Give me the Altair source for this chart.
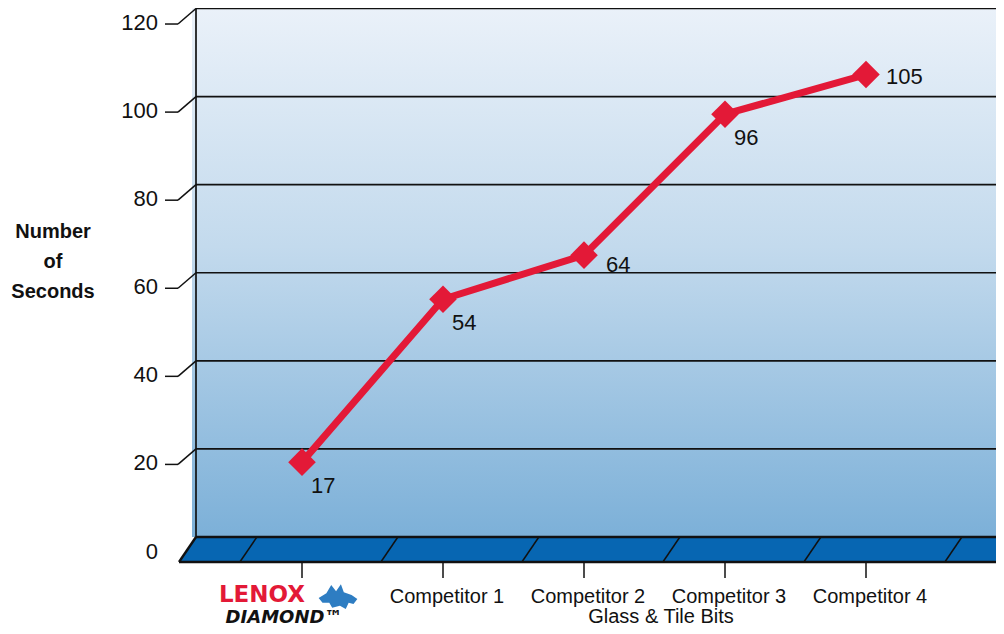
import altair as alt
import pandas as pd

# ---------------- data ----------------
categories = ["LENOX DIAMOND", "Competitor 1", "Competitor 2", "Competitor 3", "Competitor 4"]
seconds = [17, 54, 64, 96, 105]
y_ticks = [0, 20, 40, 60, 80, 100, 120]
x_title = "Glass & Tile Bits"
y_title = ["Number", "of", "Seconds"]
brand_top = "LENOX"
brand_bottom = "DIAMOND\u2122"

# ---------------- layout / styling constants ----------------
W, H = 988, 618
PX_X = 141.0          # pixels per category step
PX_Y = 4.404          # pixels per second
X0_PAGE = 302.0       # page x of first category
Y0_PAGE = 537.0       # page y of value 0 on the back wall


def xi(page_x):
    return (page_x - X0_PAGE) / PX_X


def yv(page_y):
    return (Y0_PAGE - page_y) / PX_Y


XMIN, XMAX = xi(8), xi(8 + W)
YMIN, YMAX = yv(8 + H), yv(8)
WALL_X = xi(196)           # back wall left edge
FD_X, FD_Y = 17 / PX_X, 25 / PX_Y   # floor depth offset
TD_Y = 15.5 / PX_Y                    # tick depth offset
TICK_X0, TICK_X1 = xi(165), xi(178)

RED = "#E31937"
FLOOR = "#0766B2"
SANS = "Liberation Sans, Arial, sans-serif"

xs = alt.Scale(domain=[XMIN, XMAX], nice=False, zero=False)
ys = alt.Scale(domain=[YMIN, YMAX], nice=False, zero=False)


def X(f):
    return alt.X(f, type="quantitative", scale=xs, axis=None)


def Y(f):
    return alt.Y(f, type="quantitative", scale=ys, axis=None)


# ---------------- back wall ----------------
grad = alt.LinearGradient(
    gradient="linear", x1=0, y1=0, x2=0, y2=1,
    stops=[alt.GradientStop(color="#EAF1F9", offset=0),
           alt.GradientStop(color="#C3DAED", offset=0.45),
           alt.GradientStop(color="#7CB0D8", offset=1)])
wall = alt.Chart(pd.DataFrame({"x": [xi(192)], "x2": [XMAX], "y": [0], "y2": [max(y_ticks)]})).mark_rect(
    fill=grad).encode(x=X("x"), x2="x2", y=Y("y"), y2="y2")

grid_df = pd.DataFrame({"x": [WALL_X] * (len(y_ticks) - 1), "x2": [XMAX] * (len(y_ticks) - 1),
                        "y": y_ticks[1:], "y2": y_ticks[1:]})
grid = alt.Chart(grid_df).mark_rule(color="#111111", strokeWidth=1.7).encode(
    x=X("x"), x2="x2", y=Y("y"), y2="y2")
wall_edge = alt.Chart(pd.DataFrame({"x": [WALL_X], "y": [0], "y2": [max(y_ticks)]})).mark_rule(
    color="#111111", strokeWidth=1.7).encode(x=X("x"), y=Y("y"), y2="y2")

# ---------------- floor ----------------
floor_df = pd.DataFrame({"y": [0, -FD_Y], "x": [WALL_X, WALL_X - FD_X], "x2": [XMAX, XMAX]})
floor = alt.Chart(floor_df).mark_area(orient="horizontal", color=FLOOR, opacity=1).encode(
    y=Y("y"), x=X("x"), x2="x2")
edges_df = pd.DataFrame({
    "x": [WALL_X, WALL_X - FD_X, WALL_X],
    "x2": [XMAX, XMAX, WALL_X - FD_X],
    "y": [0, -FD_Y, 0],
    "y2": [0, -FD_Y, -FD_Y]})
floor_edges = alt.Chart(edges_df).mark_rule(color="#111111", strokeWidth=2.4).encode(
    x=X("x"), x2="x2", y=Y("y"), y2="y2")
div_x = [k - 0.32 for k in range(len(categories) + 1)]
div_df = pd.DataFrame({"x": div_x, "x2": [d - FD_X for d in div_x],
                       "y": [0] * len(div_x), "y2": [-FD_Y] * len(div_x)})
dividers = alt.Chart(div_df).mark_rule(color="#111111", strokeWidth=1.5).encode(
    x=X("x"), x2="x2", y=Y("y"), y2="y2")

# ---------------- axes (drawn) ----------------
idx = list(range(len(categories)))
xtick_df = pd.DataFrame({"x": idx, "y": [-FD_Y] * len(idx), "y2": [yv(578)] * len(idx)})
xticks = alt.Chart(xtick_df).mark_rule(color="#111111", strokeWidth=1.5).encode(
    x=X("x"), y=Y("y"), y2="y2")

tv = y_ticks[1:]
ytick_df = pd.DataFrame({
    "x": [TICK_X0] * len(tv) + [TICK_X1] * len(tv),
    "x2": [TICK_X1] * len(tv) + [WALL_X] * len(tv),
    "y": [v - TD_Y for v in tv] * 2,
    "y2": [v - TD_Y for v in tv] + tv})
yticks = alt.Chart(ytick_df).mark_rule(color="#111111", strokeWidth=1.5).encode(
    x=X("x"), x2="x2", y=Y("y"), y2="y2")

ylab_df = pd.DataFrame({"x": [xi(158)] * len(y_ticks), "y": [v - TD_Y for v in y_ticks],
                        "t": [str(v) for v in y_ticks]})
ylabels = alt.Chart(ylab_df).mark_text(align="right", baseline="middle", font=SANS,
                                       fontSize=22, color="#111111", dy=-1).encode(
    x=X("x"), y=Y("y"), text="t:N")

ytitle_df = pd.DataFrame({"x": [xi(53)] * 3, "y": [yv(232), yv(262), yv(292)], "t": y_title})
ytitle = alt.Chart(ytitle_df).mark_text(align="center", baseline="middle", font=SANS,
                                        fontWeight="bold", fontSize=20, color="#111111").encode(
    x=X("x"), y=Y("y"), text="t:N")

xlab_df = pd.DataFrame({"x": idx[1:], "y": [yv(597)] * (len(idx) - 1), "t": categories[1:]})
xlabels = alt.Chart(xlab_df).mark_text(align="center", baseline="middle", font=SANS,
                                       fontSize=20, color="#111111", dx=4).encode(
    x=X("x"), y=Y("y"), text="t:N")

xtitle = alt.Chart(pd.DataFrame({"x": [xi(661)], "y": [yv(617)], "t": [x_title]})).mark_text(
    align="center", baseline="middle", font=SANS, fontSize=20, color="#111111").encode(
    x=X("x"), y=Y("y"), text="t:N")

# brand label for first category
brand1 = alt.Chart(pd.DataFrame({"x": [0], "y": [yv(595)], "t": [brand_top]})).mark_text(
    align="center", baseline="middle", font="DejaVu Sans", fontWeight="bold", fontSize=23,
    color=RED, dx=-40).encode(x=X("x"), y=Y("y"), text="t:N")
brand2 = alt.Chart(pd.DataFrame({"x": [0], "y": [yv(618)], "t": [brand_bottom]})).mark_text(
    align="center", baseline="middle", font="DejaVu Sans", fontWeight="bold", fontStyle="italic",
    fontSize=18, color="#111111", dx=-18).encode(x=X("x"), y=Y("y"), text="t:N")
wolf_shape = ("M-1,0.05 L-0.6,-0.2 L-0.35,-0.62 L-0.1,-0.3 L0.15,-0.66 L0.3,-0.25 L0.7,-0.1 "
              "L1,0.1 L0.8,0.36 L0.55,0.3 L0.4,0.62 L0.1,0.45 L-0.3,0.55 L-0.45,0.3 L-0.8,0.3 Z")
wolf = alt.Chart(pd.DataFrame({"x": [xi(338)], "y": [yv(597)]})).mark_point(
    shape=wolf_shape, filled=True, size=1500, color="#2E7DC2", opacity=1).encode(
    x=X("x"), y=Y("y"))

# ---------------- data series ----------------
df = pd.DataFrame({"idx": idx, "seconds": seconds, "category": categories,
                   "lab": [str(s) for s in seconds]})
base = alt.Chart(df)
line = base.mark_line(color=RED, strokeWidth=7).encode(x=X("idx"), y=Y("seconds"))
pts = base.mark_point(shape="diamond", filled=True, size=760, color=RED, opacity=1).encode(
    x=X("idx"), y=Y("seconds"))
lab_below = base.transform_filter("datum.idx <= 1 || datum.idx == 3").mark_text(
    align="left", baseline="middle", font=SANS, fontSize=22, color="#111111", dx=9, dy=24).encode(
    x=X("idx"), y=Y("seconds"), text="lab:N")
lab_right = base.transform_filter("datum.idx == 2").mark_text(
    align="left", baseline="middle", font=SANS, fontSize=22, color="#111111", dx=22, dy=10).encode(
    x=X("idx"), y=Y("seconds"), text="lab:N")
lab_last = base.transform_filter("datum.idx == 4").mark_text(
    align="left", baseline="middle", font=SANS, fontSize=22, color="#111111", dx=20, dy=2).encode(
    x=X("idx"), y=Y("seconds"), text="lab:N")

chart = alt.layer(
    wall, grid, wall_edge, floor, dividers, floor_edges, xticks, yticks, ylabels, ytitle,
    xlabels, xtitle, brand1, brand2, wolf, line, pts, lab_below, lab_right, lab_last
).properties(
    width=W, height=H, autosize=alt.AutoSizeParams(type="none"), padding=0, background="white"
).configure_view(stroke=None)

chart.save("out.html", embed_options={"renderer": "svg", "actions": False})
